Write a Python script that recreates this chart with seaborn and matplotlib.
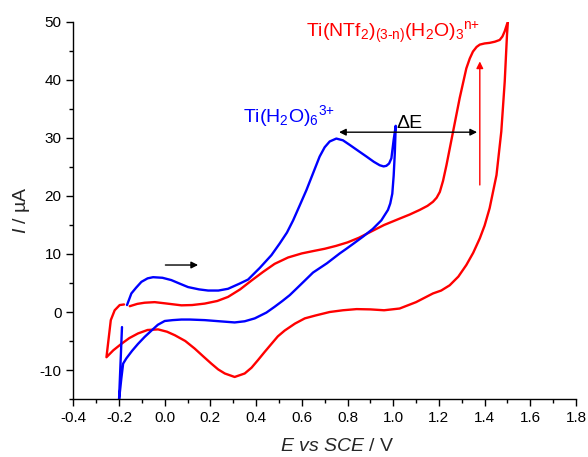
import numpy as np
import pandas as pd
import matplotlib
matplotlib.use("Agg")
import matplotlib.pyplot as plt
import seaborn as sns
from matplotlib.ticker import MultipleLocator

# ---- data ----
blue_E = [-0.165, -0.146, -0.125, -0.102, -0.075, -0.051, -0.01, 0.029, 0.065, 0.102, 0.15, 0.19,
          0.235, 0.277, 0.328, 0.365, 0.416, 0.467, 0.503, 0.535, 0.562, 0.59, 0.62, 0.65, 0.678,
          0.70, 0.722, 0.751, 0.78, 0.81, 0.85, 0.883, 0.915, 0.941, 0.958, 0.97, 0.982, 0.992,
          1.002, 1.011,
          1.007, 1.002, 0.996, 0.987, 0.977, 0.948, 0.91, 0.868, 0.83, 0.795, 0.766, 0.71, 0.649,
          0.61, 0.576, 0.547, 0.515, 0.481, 0.445, 0.394, 0.35, 0.306, 0.24, 0.175, 0.11, 0.073,
          0.035, 0.0, -0.03, -0.058, -0.088, -0.117, -0.143, -0.168, -0.182, -0.19, -0.2, -0.187]
blue_I = [1.2, 3.2, 4.2, 5.2, 5.8, 6.0, 5.9, 5.5, 4.9, 4.3, 3.9, 3.7,
          3.7, 4.0, 4.9, 5.6, 7.6, 9.8, 11.8, 13.7, 15.8, 18.3, 21.0, 24.0, 26.8,
          28.4, 29.4, 29.9, 29.6, 28.8, 27.7, 26.8, 25.9, 25.3, 25.1, 25.2, 25.6, 26.5,
          29.7, 32.1,
          27.4, 23.5, 20.4, 18.7, 17.6, 15.8, 14.3, 13.0, 11.9, 10.9, 10.1, 8.4, 6.8,
          5.3, 4.0, 2.9, 1.9, 0.9, -0.1, -1.1, -1.6, -1.8, -1.6, -1.4, -1.3, -1.3,
          -1.4, -1.55, -2.2, -3.2, -4.3, -5.5, -6.7, -8.0, -8.9, -11.5, -15.2, -2.6]

red_E = [-0.153, -0.12, -0.088, -0.044, 0.0, 0.073, 0.12, 0.175, 0.23, 0.277, 0.33, 0.379,
         0.43, 0.481, 0.54, 0.60, 0.649, 0.70, 0.75, 0.80, 0.85, 0.90, 0.96, 1.028, 1.072,
         1.116, 1.15, 1.174, 1.19, 1.204, 1.218, 1.233, 1.262, 1.291, 1.32, 1.335, 1.349, 1.365,
         1.379, 1.40, 1.422, 1.445, 1.466, 1.478, 1.488, 1.502,
         1.498, 1.488, 1.473, 1.452, 1.422, 1.40, 1.379, 1.35, 1.32, 1.285, 1.247, 1.21, 1.174,
         1.10, 1.028, 0.96, 0.90, 0.84, 0.78, 0.722, 0.66, 0.613, 0.57, 0.525, 0.495, 0.467,
         0.437, 0.408, 0.38, 0.35, 0.306, 0.263, 0.234, 0.204, 0.17, 0.131, 0.09, 0.044, 0.01,
         -0.029, -0.075, -0.117, -0.155, -0.19, -0.225, -0.255, -0.236, -0.219, -0.197, -0.178]
red_I = [1.0, 1.4, 1.6, 1.7, 1.5, 1.15, 1.2, 1.45, 1.9, 2.6, 3.9, 5.4,
         6.9, 8.3, 9.4, 10.1, 10.5, 10.9, 11.4, 12.0, 12.8, 13.8, 15.0, 16.1, 16.8,
         17.6, 18.3, 19.0, 19.7, 20.7, 22.6, 25.3, 31.1, 36.9, 42.0, 43.7, 44.9, 45.7,
         46.1, 46.3, 46.4, 46.6, 46.9, 47.5, 48.4, 50.1,
         47.8, 39.7, 31.1, 23.6, 17.9, 14.9, 12.7, 10.2, 8.1, 6.1, 4.6, 3.7, 3.2,
         1.7, 0.6, 0.3, 0.45, 0.5, 0.3, 0.0, -0.6, -1.1, -2.0, -3.2, -4.2, -5.5,
         -6.9, -8.3, -9.6, -10.6, -11.2, -10.6, -9.9, -8.9, -7.7, -6.3, -5.0, -4.0, -3.4,
         -3.0, -3.1, -3.7, -4.5, -5.5, -6.6, -7.8, -1.4, 0.3, 1.2, 1.3]

x_ticks = [-0.4, -0.2, 0.0, 0.2, 0.4, 0.6, 0.8, 1.0, 1.2, 1.4, 1.6, 1.8]
y_ticks = [-10, 0, 10, 20, 30, 40, 50]

blue_label = r"Ti(H$_2$O)$_6$$^{\text{3+}}$"
red_label = r"Ti(NTf$_2$)$_{\text{(3-n)}}$(H$_2$O)$_3$$^{\text{n+}}$"

# ---- style ----
sns.set_style("ticks")
plt.rcParams.update({
    "font.family": ["Liberation Sans", "DejaVu Sans"],
    "mathtext.fontset": "custom",
    "mathtext.rm": "Liberation Sans",
    "mathtext.it": "Liberation Sans:italic",
    "mathtext.bf": "Liberation Sans:bold",
    "axes.unicode_minus": False,
})

fig = plt.figure(figsize=(5.88, 4.57), dpi=100)
ax = fig.add_axes([0.1247, 0.1269, 0.8549, 0.8250])

df_blue = pd.DataFrame({"E": blue_E, "I": blue_I})
df_red = pd.DataFrame({"E": red_E, "I": red_I})
line_kw = dict(sort=False, estimator=None, lw=1.7, ax=ax)
sns.lineplot(data=df_red, x="E", y="I", color="#ff0000", **line_kw)
sns.lineplot(data=df_blue, x="E", y="I", color="#0000ff", **line_kw)
for ln in ax.lines:
    ln.set_solid_joinstyle("round")
    ln.set_solid_capstyle("round")

ax.set_xlim(-0.4, 1.8)
ax.set_ylim(-15, 50)
ax.set_xticks(x_ticks)
ax.set_yticks(y_ticks)
ax.set_xticklabels([f"{t:.1f}" for t in x_ticks])
ax.set_yticklabels([str(t) for t in y_ticks])
ax.xaxis.set_minor_locator(MultipleLocator(0.1))
ax.yaxis.set_minor_locator(MultipleLocator(5))
ax.tick_params(which="major", direction="out", length=5, width=1, labelsize=11,
               colors="black")
ax.tick_params(which="minor", direction="out", length=3, width=1, colors="black")
for s in ["top", "right"]:
    ax.spines[s].set_visible(False)
for s in ["left", "bottom"]:
    ax.spines[s].set_linewidth(1)
    ax.spines[s].set_color("black")

ax.set_xlabel(r"$\it{E}$ $\it{vs}$ $\it{SCE}$ / V", fontsize=14)
ax.set_ylabel(r"$\it{I}$ / µA", fontsize=14)
ax.xaxis.set_label_coords(0.5256, -0.103)
ax.yaxis.set_label_coords(-0.082, 0.5)

# annotations
ax.text(0.343, 32.8, blue_label, color="#0000ff", fontsize=14, va="baseline", ha="left")
ax.text(0.62, 47.5, red_label, color="#ff0000", fontsize=14, va="baseline", ha="left")
ax.text(1.014, 31.8, "ΔE", color="black", fontsize=14, va="baseline", ha="left")

ax.annotate("", xy=(0.763, 31.0), xytext=(1.367, 31.0),
            arrowprops=dict(arrowstyle="<|-|>", color="black", lw=1, mutation_scale=10,
                            shrinkA=0, shrinkB=0))
ax.annotate("", xy=(0.146, 8.1), xytext=(0.003, 8.1),
            arrowprops=dict(arrowstyle="-|>", color="black", lw=1, mutation_scale=10,
                            shrinkA=0, shrinkB=0))
ax.annotate("", xy=(1.379, 43.2), xytext=(1.379, 21.9),
            arrowprops=dict(arrowstyle="-|>", color="#ff0000", lw=1, mutation_scale=10,
                            shrinkA=0, shrinkB=0))

fig.savefig("out.png", dpi=100)
